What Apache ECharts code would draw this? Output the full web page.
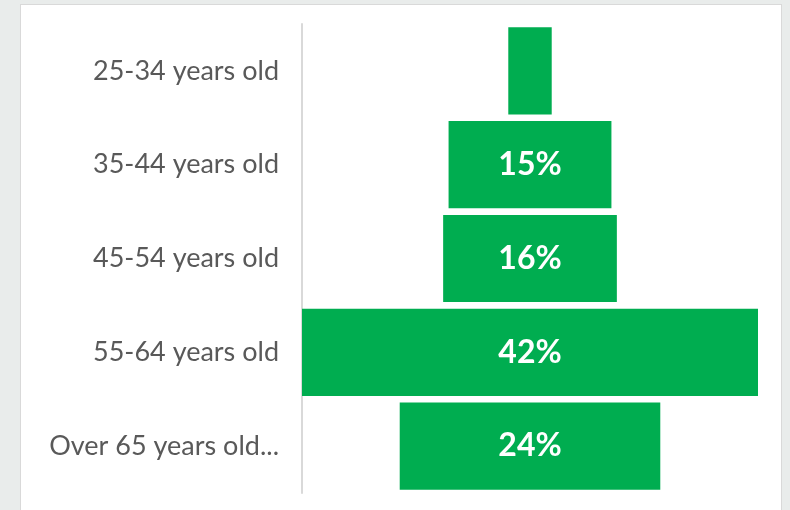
<!DOCTYPE html>
<html>
<head>
<meta charset="utf-8">
<script src="https://cdn.jsdelivr.net/npm/echarts@6/dist/echarts.min.js"></script>
<style>
  html, body { margin: 0; padding: 0; background: #e9eceb; }
  #panel { position: absolute; left: 20px; top: 4px; width: 760px; height: 510px; background: #fff; border: 1px solid #d9d9d9; }
  #chart { position: absolute; left: 0; top: 0; width: 790px; height: 510px; }
</style>
</head>
<body>
<div id="panel"></div>
<div id="chart"></div>
<script>
// age groups, top to bottom
var categories = ['25-34 years old', '35-44 years old', '45-54 years old', '55-64 years old', 'Over 65 years old...']
// share of respondents (%)
var shares = [4, 15, 16, 42, 24]
var maxShare = 42

// invisible spacer so each bar sits centered on the widest one
var offsets = shares.map(function (v) { return (maxShare - v) / 2 })

var chart = echarts.init(document.getElementById('chart'))
chart.setOption({
  animation: false,
  grid: {
    left: 302,
    right: 32,
    top: 24,
    height: 469
  },
  xAxis: {
    type: 'value',
    min: 0,
    max: maxShare,
    show: false
  },
  yAxis: {
    type: 'category',
    inverse: true,
    data: categories,
    axisTick: { show: false },
    axisLine: { lineStyle: { color: '#d9d9d9', width: 2 } },
    axisLabel: {
      margin: 23,
      color: '#595959',
      fontFamily: 'Lato',
      fontSize: 27
    }
  },
  series: [
    {
      type: 'bar',
      stack: 'funnel',
      data: offsets,
      itemStyle: { color: 'transparent' },
      silent: true
    },
    {
      type: 'bar',
      stack: 'funnel',
      barCategoryGap: '7%',
      data: shares,
      itemStyle: { color: '#00ad50' },
      label: {
        show: true,
        position: 'inside',
        color: '#fff',
        fontFamily: 'Lato',
        fontWeight: 'bold',
        fontSize: 32,
        formatter: function (p) { return p.value >= 10 ? p.value + '%' : '' }
      }
    }
  ]
})
</script>
</body>
</html>
